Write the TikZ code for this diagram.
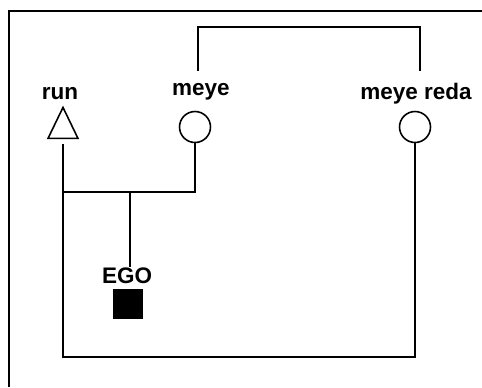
\documentclass[tikz,border=0pt]{standalone}
\usepackage{fontspec}
\setmainfont{Liberation Sans}
\usetikzlibrary{positioning,shapes.geometric}

\begin{document}
\begin{tikzpicture}[x=0.02cm,y=-0.02cm,line width=1.2pt,
 lbl/.style={font=\fontsize{12.8}{15}\selectfont\bfseries,inner sep=0pt},
 male/.style={draw,isosceles triangle,isosceles triangle stretches,shape border rotate=90,
  minimum width=0.6cm,minimum height=0.62cm,inner sep=0pt,line width=0.9pt},
 female/.style={draw,circle,minimum size=0.62cm,inner sep=0pt,line width=0.9pt},
 egobox/.style={fill=black,minimum size=0.6cm,inner sep=0pt}]
\useasboundingbox (0,0) rectangle (482,387);
% frame
\draw[line width=1.6pt] (9,387) -- (9,11) -- (482,11);
% people
\node[male] (run) at (63,129) {};
\node[female] (meye) at (195,127) {};
\node[female] (reda) at (415,127) {};
\node[egobox] (ego) at (128,304) {};
\node[lbl] (runlbl) at (60,94) {run};
\node[lbl] (meyelbl) at (201,92) {meye};
\node[lbl] (redalbl) at (416,94) {meye reda};
\node[lbl] (egolbl) at (127,276) {EGO};
% links
\coordinate (mtop) at (198,71);
\coordinate (rtop) at (420,71);
\coordinate (sib) at (130,192);
\draw (mtop) -- (198,27) -| (rtop);
\draw ([yshift=-3pt]run.south) -- (63,357) -| (reda.south);
\draw (63,192) -| (meye.south);
\draw (sib) -- (sib |- egolbl.north);
\end{tikzpicture}
\end{document}
